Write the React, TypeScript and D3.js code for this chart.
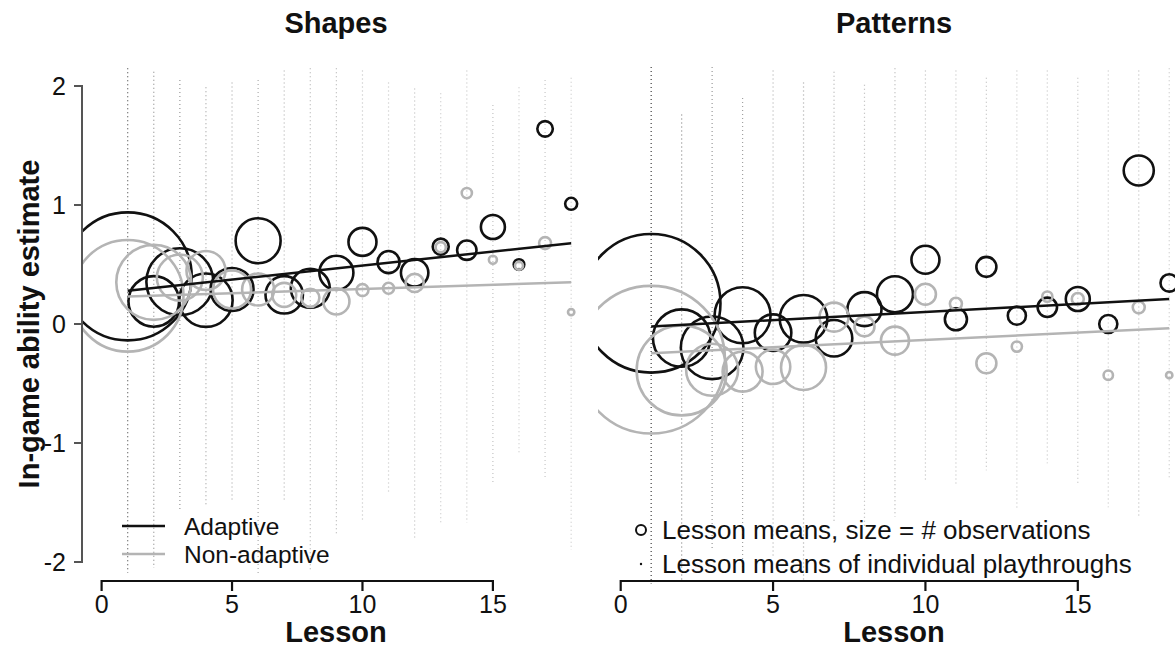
import React, { useEffect, useRef } from 'react'
import * as d3 from 'd3'

// lesson index shared by every series
const lessons = [1, 2, 3, 4, 5, 6, 7, 8, 9, 10, 11, 12, 13, 14, 15, 16, 17, 18]

// Shapes: lesson means and number of observations
const shapesAdaptiveMean = [0.4, 0.19, 0.355, 0.2, 0.29, 0.7, 0.245, 0.3, 0.43, 0.69, 0.52, 0.43, 0.65, 0.62, 0.815, 0.5, 1.64, 1.01]
const shapesAdaptiveN = [2048, 320, 561, 356, 231, 253, 175, 190, 145, 98, 61, 94, 32, 47, 72, 14, 30, 18]
const shapesNonAdaptiveMean = [0.237, 0.35, 0.39, 0.45, 0.29, 0.29, 0.245, 0.22, 0.19, 0.285, 0.3, 0.345, 0.645, 1.1, 0.54, 0.49, 0.68, 0.1]
const shapesNonAdaptiveN = [1557, 703, 265, 190, 181, 128, 72, 41, 85, 18, 15, 41, 13, 13, 8, 8, 18, 5]

// Patterns: lesson means and number of observations
const patternsAdaptiveMean = [0.174, -0.118, -0.2, 0.073, -0.073, 0.044, -0.12, 0.125, 0.25, 0.54, 0.04, 0.48, 0.07, 0.14, 0.21, 0.0, 1.29, 0.345]
const patternsAdaptiveN = [2401, 412, 490, 392, 167, 283, 167, 145, 162, 98, 61, 50, 41, 47, 72, 41, 113, 38]
const patternsNonAdaptiveMean = [-0.3, -0.39, -0.385, -0.4, -0.36, -0.365, 0.058, -0.02, -0.14, 0.25, 0.17, -0.33, -0.19, 0.23, 0.21, -0.43, 0.14, -0.43]
const patternsNonAdaptiveN = [2723, 1013, 338, 200, 148, 253, 105, 50, 98, 55, 18, 50, 13, 13, 18, 11, 18, 5]

// linear fits: [intercept, slope per lesson]
const shapesAdaptiveFit = [0.2565, 0.0235]
const shapesNonAdaptiveFit = [0.223, 0.00706]
const patternsAdaptiveFit = [-0.0356, 0.01365]
const patternsNonAdaptiveFit = [-0.258, 0.0124]

// spread of the individual playthrough means per lesson (highest, lowest)
const shapesDotTop = [2.15, 2.12, 2.05, 1.99, 2.03, 2.05, 2.13, 2.15, 2.15, 2.13, 2.03, 1.98, 1.94, 2.13, 1.84, 1.99, 2.05, 2.07]
const shapesDotBottom = [-2.09, -2.05, -1.58, -1.54, -1.48, -2.11, -1.5, -2.08, -1.77, -1.65, -1.41, -1.8, -1.69, -1.67, -1.34, -1.08, -1.31, -1.9]
const patternsDotTop = [2.16, 1.76, 2.16, 1.9, 2.13, 2.03, 2.12, 2.01, 2.15, 2.13, 2.13, 2.07, 2.13, 2.13, 2.07, 2.13, 2.13, 2.15]
const patternsDotBottom = [-2.18, -2.15, -1.9, -2.09, -1.96, -2.15, -1.67, -1.71, -1.62, -1.31, -1.34, -1.23, -1.56, -1.17, -1.34, -1.54, -1.62, -1.31]

const xTicks = [0, 5, 10, 15]
const yTicks = [-2, -1, 0, 1, 2]

const BLACK = '#111'
const GREY = '#b4b4b4'
const FONT = 'Liberation Sans, Arial, Helvetica, sans-serif'

export default function App() {
  const ref = useRef<SVGSVGElement>(null)

  useEffect(() => {
    draw()
  }, [])

  const draw = () => {
    const svg = d3.select(ref.current)
    svg.selectAll('*').remove()
    svg.attr('width', 1175).attr('height', 647).style('font-family', FONT)

    const y = d3.scaleLinear().domain([-2, 2]).range([562, 86])
    const r = d3.scaleSqrt().domain([0, 2000]).range([0, Math.sqrt(4000)])
    const colOpacity = d3.scaleSqrt().domain([0, 5000]).range([0.2, 0.95]).clamp(true)

    const panels = [
      {
        title: 'Shapes',
        x: d3.scaleLinear().domain([0, 15]).range([101.6, 492.9]),
        left: 82,
        right: 580,
        center: 336,
        am: shapesAdaptiveMean,
        an: shapesAdaptiveN,
        nm: shapesNonAdaptiveMean,
        nn: shapesNonAdaptiveN,
        afit: shapesAdaptiveFit,
        nfit: shapesNonAdaptiveFit,
        top: shapesDotTop,
        bottom: shapesDotBottom,
      },
      {
        title: 'Patterns',
        x: d3.scaleLinear().domain([0, 15]).range([620.7, 1077.8]),
        left: 598,
        right: 1175,
        center: 894,
        am: patternsAdaptiveMean,
        an: patternsAdaptiveN,
        nm: patternsNonAdaptiveMean,
        nn: patternsNonAdaptiveN,
        afit: patternsAdaptiveFit,
        nfit: patternsNonAdaptiveFit,
        top: patternsDotTop,
        bottom: patternsDotBottom,
      },
    ]

    const defs = svg.append('defs')

    panels.forEach((p, i) => {
      defs
        .append('clipPath')
        .attr('id', `clip-${i}`)
        .append('rect')
        .attr('x', p.left)
        .attr('y', 58)
        .attr('width', p.right - p.left)
        .attr('height', 528)

      const g = svg.append('g').attr('clip-path', `url(#clip-${i})`)

      // individual playthrough means, one dotted column per lesson
      g.append('g')
        .selectAll('line')
        .data(lessons)
        .join('line')
        .attr('x1', (d) => p.x(d))
        .attr('x2', (d) => p.x(d))
        .attr('y1', (d, j) => y(p.top[j]))
        .attr('y2', (d, j) => y(p.bottom[j]))
        .attr('stroke', '#333')
        .attr('stroke-width', 1.2)
        .attr('stroke-dasharray', '1 3')
        .attr('stroke-opacity', (d, j) => colOpacity(p.an[j] + p.nn[j]))

      // lesson means
      g.append('g')
        .selectAll('circle')
        .data(lessons)
        .join('circle')
        .attr('cx', (d) => p.x(d))
        .attr('cy', (d, j) => y(p.am[j]))
        .attr('r', (d, j) => r(p.an[j]))
        .attr('fill', 'none')
        .attr('stroke', BLACK)
        .attr('stroke-width', 2.6)

      g.append('g')
        .selectAll('circle')
        .data(lessons)
        .join('circle')
        .attr('cx', (d) => p.x(d))
        .attr('cy', (d, j) => y(p.nm[j]))
        .attr('r', (d, j) => r(p.nn[j]))
        .attr('fill', 'none')
        .attr('stroke', GREY)
        .attr('stroke-width', 2.6)

      // linear fits
      const ends = [lessons[0], lessons[lessons.length - 1]]
      const fits = [
        { fit: p.afit, color: BLACK },
        { fit: p.nfit, color: GREY },
      ]
      fits.forEach((f) => {
        const line = d3
          .line<number>()
          .x((d) => p.x(d))
          .y((d) => y(f.fit[0] + f.fit[1] * d))
        g.append('path')
          .attr('d', line(ends))
          .attr('fill', 'none')
          .attr('stroke', f.color)
          .attr('stroke-width', 2.5)
      })

      // x axis
      const xAxis = svg.append('g').attr('transform', 'translate(0,581)')
      xAxis
        .append('line')
        .attr('x1', p.x(0))
        .attr('x2', p.x(15))
        .attr('stroke', BLACK)
        .attr('stroke-width', 2.2)
      xAxis
        .selectAll('line.tick')
        .data(xTicks)
        .join('line')
        .attr('class', 'tick')
        .attr('x1', (d) => p.x(d))
        .attr('x2', (d) => p.x(d))
        .attr('y1', -1)
        .attr('y2', 10)
        .attr('stroke', BLACK)
        .attr('stroke-width', 2.2)
      xAxis
        .selectAll('text')
        .data(xTicks)
        .join('text')
        .attr('x', (d) => p.x(d))
        .attr('y', 32)
        .attr('text-anchor', 'middle')
        .attr('font-size', 25)
        .attr('fill', BLACK)
        .text((d) => d)

      svg
        .append('text')
        .attr('x', p.center)
        .attr('y', 642)
        .attr('text-anchor', 'middle')
        .attr('font-size', 29)
        .attr('font-weight', 'bold')
        .attr('fill', BLACK)
        .text('Lesson')

      svg
        .append('text')
        .attr('x', p.center)
        .attr('y', 33)
        .attr('text-anchor', 'middle')
        .attr('font-size', 29)
        .attr('font-weight', 'bold')
        .attr('fill', BLACK)
        .text(p.title)
    })

    // y axis (left panel only)
    const yAxis = svg.append('g')
    yAxis
      .append('line')
      .attr('x1', 82)
      .attr('x2', 82)
      .attr('y1', y(2))
      .attr('y2', y(-2))
      .attr('stroke', '#555')
      .attr('stroke-width', 2)
    yAxis
      .selectAll('line.tick')
      .data(yTicks)
      .join('line')
      .attr('class', 'tick')
      .attr('x1', 74)
      .attr('x2', 83)
      .attr('y1', (d) => y(d))
      .attr('y2', (d) => y(d))
      .attr('stroke', '#555')
      .attr('stroke-width', 2)
    yAxis
      .selectAll('text')
      .data(yTicks)
      .join('text')
      .attr('x', 66)
      .attr('y', (d) => y(d) + 9)
      .attr('text-anchor', 'end')
      .attr('font-size', 25)
      .attr('fill', BLACK)
      .text((d) => d)

    svg
      .append('text')
      .attr('transform', `translate(39,${y(0)}) rotate(-90)`)
      .attr('text-anchor', 'middle')
      .attr('font-size', 29)
      .attr('font-weight', 'bold')
      .attr('fill', BLACK)
      .text('In-game ability estimate')

    // legend: fitted lines
    const legendA = svg.append('g')
    const lineItems = [
      { label: 'Adaptive', color: BLACK, y: 526 },
      { label: 'Non-adaptive', color: GREY, y: 554 },
    ]
    lineItems.forEach((d) => {
      legendA
        .append('line')
        .attr('x1', 122)
        .attr('x2', 165)
        .attr('y1', d.y)
        .attr('y2', d.y)
        .attr('stroke', d.color)
        .attr('stroke-width', 2.5)
      legendA
        .append('text')
        .attr('x', 184)
        .attr('y', d.y + 9)
        .attr('font-size', 24.5)
        .attr('fill', BLACK)
        .text(d.label)
    })

    // legend: markers
    const legendB = svg.append('g')
    legendB
      .append('circle')
      .attr('cx', 641)
      .attr('cy', 530)
      .attr('r', 5)
      .attr('fill', 'none')
      .attr('stroke', BLACK)
      .attr('stroke-width', 2)
    legendB
      .append('circle')
      .attr('cx', 641)
      .attr('cy', 564)
      .attr('r', 1.2)
      .attr('fill', BLACK)
    legendB
      .append('text')
      .attr('x', 662)
      .attr('y', 539)
      .attr('font-size', 26)
      .attr('fill', BLACK)
      .text('Lesson means, size = # observations')
    legendB
      .append('text')
      .attr('x', 662)
      .attr('y', 573)
      .attr('font-size', 26)
      .attr('fill', BLACK)
      .text('Lesson means of individual playthroughs')
  }

  return (
    <div style={{ position: 'absolute', left: 0, top: 0, background: '#fff' }}>
      <svg ref={ref}></svg>
    </div>
  )
}
